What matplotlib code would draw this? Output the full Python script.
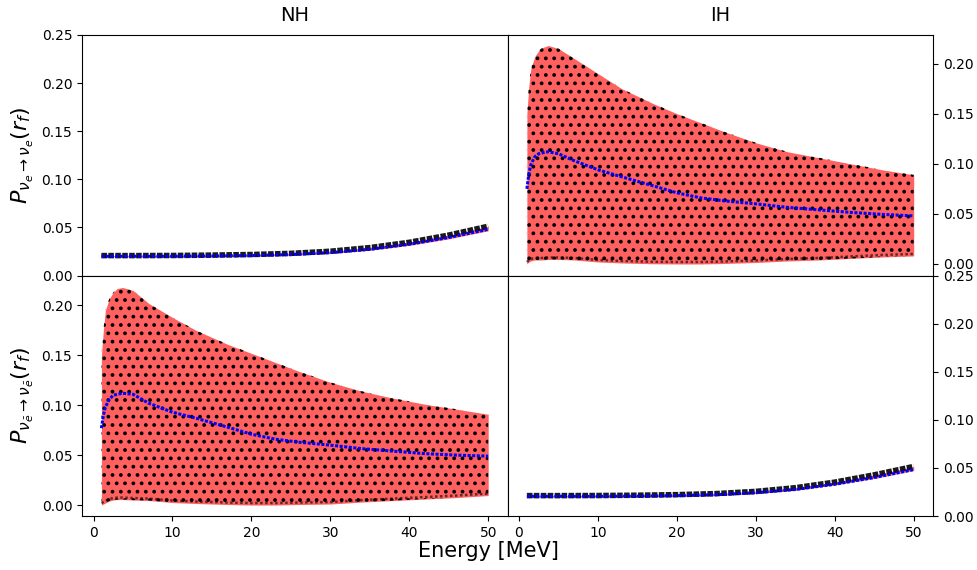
import numpy as np
import matplotlib
matplotlib.use('Agg')
import matplotlib.pyplot as plt

# Energies (MeV)
E_narrow = [1, 5, 10, 15, 20, 25, 30, 35, 40, 45, 50]
E_wide = [1.0, 1.25, 1.5, 2.0, 2.5, 3.0, 3.7, 5, 7, 10, 13, 17, 20, 23, 26, 30, 34, 38, 42, 46, 50]

# NH, nu_e survival (narrow band)
nh_nu_lo = [0.0195, 0.0195, 0.0195, 0.0198, 0.0202, 0.0211, 0.0230, 0.0262, 0.0313, 0.0381, 0.0465]
nh_nu_hi = [0.0207, 0.0207, 0.0208, 0.0212, 0.0218, 0.0230, 0.0252, 0.0290, 0.0345, 0.0420, 0.0512]
nh_nu_mean = [0.0200, 0.0200, 0.0200, 0.0203, 0.0208, 0.0218, 0.0238, 0.0272, 0.0325, 0.0395, 0.0480]

# IH, nu_e survival (wide band)
ih_nu_lo = [0.000, 0.002, 0.003, 0.004, 0.004, 0.004, 0.0045, 0.0045, 0.004, 0.002, 0.001, 0.0002,
            0.0, 0.0, 0.0005, 0.0015, 0.003, 0.004, 0.0055, 0.007, 0.008]
ih_nu_hi = [0.150, 0.178, 0.195, 0.207, 0.213, 0.216, 0.218, 0.215, 0.205, 0.190, 0.175, 0.160,
            0.150, 0.141, 0.132, 0.121, 0.112, 0.106, 0.100, 0.094, 0.089]
ih_nu_mean = [0.075, 0.090, 0.099, 0.107, 0.110, 0.111, 0.112, 0.110, 0.103, 0.094, 0.087, 0.078,
              0.071, 0.066, 0.063, 0.060, 0.0565, 0.054, 0.0515, 0.0495, 0.048]

# NH, anti-nu_e survival (wide band)
nh_anu_lo = [0.000, 0.001, 0.002, 0.004, 0.005, 0.0055, 0.0055, 0.005, 0.0045, 0.0025, 0.0015, 0.0005,
             0.0, 0.0, 0.0005, 0.001, 0.003, 0.0045, 0.006, 0.0075, 0.0095]
nh_anu_hi = [0.150, 0.175, 0.195, 0.207, 0.213, 0.217, 0.218, 0.215, 0.202, 0.188, 0.175, 0.161,
             0.152, 0.143, 0.134, 0.123, 0.114, 0.107, 0.101, 0.096, 0.091]
nh_anu_mean = [0.077, 0.090, 0.098, 0.106, 0.110, 0.111, 0.112, 0.111, 0.102, 0.093, 0.087, 0.078,
               0.071, 0.066, 0.063, 0.060, 0.0565, 0.054, 0.0515, 0.050, 0.049]

# IH, anti-nu_e survival (narrow band)
ih_anu_lo = [0.0200, 0.0200, 0.0200, 0.0202, 0.0205, 0.0213, 0.0234, 0.0267, 0.0323, 0.0390, 0.0475]
ih_anu_hi = [0.0212, 0.0212, 0.0213, 0.0216, 0.0222, 0.0233, 0.0256, 0.0294, 0.0352, 0.0428, 0.0515]
ih_anu_mean = [0.0205, 0.0205, 0.0205, 0.0207, 0.0212, 0.0222, 0.0242, 0.0276, 0.0330, 0.0400, 0.0482]


def narrow(ax, E, lo, hi, mean):
    ax.fill_between(E, lo, hi, color='red', alpha=0.6, linewidth=0)
    ax.plot(E, hi, color='black', lw=4.0, alpha=0.9, ls=(0, (1, 0.25)))
    ax.plot(E, mean, color='blue', lw=2.2, ls=(0, (1, 0.5)))


def wide(ax, E, lo, hi, mean):
    ax.fill_between(E, lo, hi, color='red', alpha=0.62, linewidth=0)
    # scattered samples shown as a dotted texture
    ax.fill_between(E, lo, hi, facecolor='none', edgecolor='black', hatch='..', linewidth=0)
    ax.plot(E, np.array(lo) + 0.002, color='black', lw=1.8, alpha=0.6, ls=(0, (1, 1.0)))
    ax.plot(E, mean, color='blue', lw=2.2, ls=(0, (1, 0.5)))


plt.rcParams['hatch.color'] = 'black'
plt.rcParams['hatch.linewidth'] = 1.5
fig, axes = plt.subplots(2, 2, sharex=True, figsize=(9.77, 5.70), dpi=100)
fig.subplots_adjust(left=0.084, right=0.955, top=0.9386, bottom=0.0947, wspace=0, hspace=0)

narrow(axes[0, 0], E_narrow, nh_nu_lo, nh_nu_hi, nh_nu_mean)
wide(axes[0, 1], E_wide, ih_nu_lo, ih_nu_hi, ih_nu_mean)
wide(axes[1, 0], E_wide, nh_anu_lo, nh_anu_hi, nh_anu_mean)
narrow(axes[1, 1], E_narrow, ih_anu_lo, ih_anu_hi, ih_anu_mean)

axes[0, 0].set_ylim(0, 0.25)
axes[1, 1].set_ylim(0, 0.25)
axes[0, 1].set_ylim(-0.0115, 0.2285)
axes[1, 0].set_ylim(-0.011, 0.230)
for ax in axes[:, 1]:
    ax.yaxis.tick_right()
for ax in axes[1, :]:
    ax.set_xticks([0, 10, 20, 30, 40, 50])

axes[0, 0].set_title('NH', fontsize=14, pad=10)
axes[0, 1].set_title('IH', fontsize=14, pad=10)
axes[0, 0].set_ylabel(r'$P_{\nu_e\rightarrow\nu_e}(r_f)$', fontsize=16)
axes[1, 0].set_ylabel(r'$P_{\nu_{\bar{e}}\rightarrow\nu_{\bar{e}}}(r_f)$', fontsize=16)
fig.text(0.5, 0.015, 'Energy [MeV]', ha='center', va='bottom', fontsize=15)

fig.savefig('out.png', dpi=100)
